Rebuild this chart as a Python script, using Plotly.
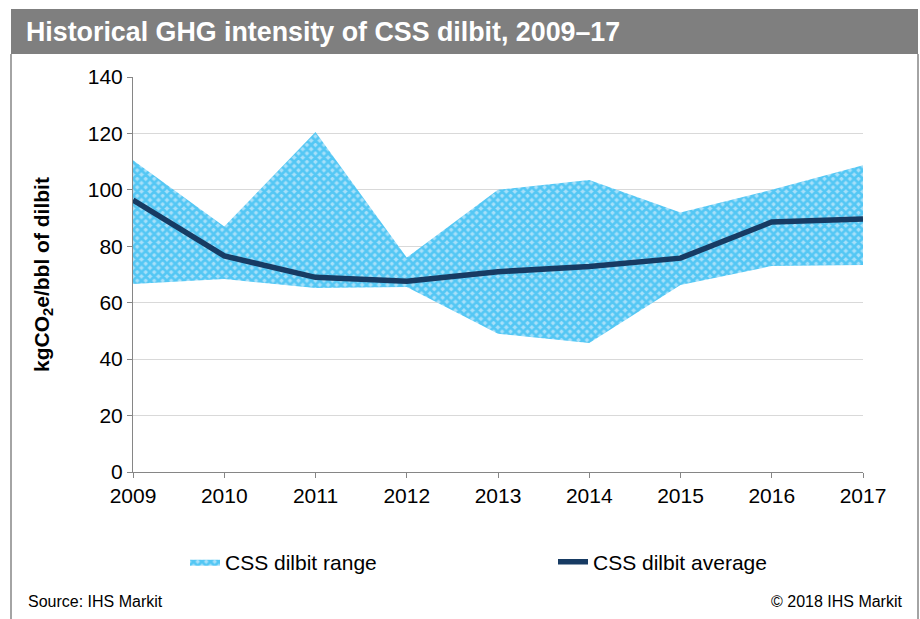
import plotly.graph_objects as go

years = [2009, 2010, 2011, 2012, 2013, 2014, 2015, 2016, 2017]
range_high = [110.5, 87, 120.5, 76, 100, 103.5, 92, 100, 108.7]
range_low = [66.6, 68.4, 65.2, 65.6, 49, 45.7, 66.3, 73, 73.4]
average = [96.4, 76.6, 69, 67.6, 71, 72.8, 75.8, 88.6, 89.7]

W, H = 920, 619
L, R, T, B = 133, 57, 77, 147
PW, PH = W - L - R, H - T - B


def px(x):
    return (x - L) / PW


def py(y):
    return (H - B - y) / PH


fig = go.Figure()
fig.add_trace(go.Scatter(
    x=years, y=range_low, mode="lines", line=dict(width=0, color="rgba(0,0,0,0)"),
    showlegend=False, hoverinfo="skip"))
fig.add_trace(go.Scatter(
    x=years, y=range_high, mode="lines", line=dict(width=0, color="rgba(0,0,0,0)"),
    fill="tonexty", fillcolor="#5ac8f5",
    fillpattern=dict(shape="x", fgcolor="#00aeef", bgcolor="#a8e0f9", size=6, solidity=0.7),
    name="CSS dilbit range", legend="legend"))
fig.add_trace(go.Scatter(
    x=years, y=average, mode="lines", line=dict(width=5.5, color="#173b63"),
    name="CSS dilbit average", legend="legend2"))

leg_common = dict(orientation="h", yanchor="middle", font=dict(size=21),
                  bgcolor="rgba(0,0,0,0)", xanchor="left")

fig.update_layout(
    width=W, height=H,
    margin=dict(l=L, r=R, t=T, b=B),
    paper_bgcolor="white", plot_bgcolor="white",
    font=dict(family="Liberation Sans, Arial, sans-serif", color="#000000", size=21),
    showlegend=True,
    legend=dict(x=px(185), y=py(562), **leg_common),
    legend2=dict(x=px(553), y=py(562), **leg_common),
    xaxis=dict(range=[2009, 2017], tickvals=years, ticktext=[str(y) for y in years],
               showgrid=False, showline=True, linecolor="#868686", linewidth=1,
               ticks="outside", ticklen=5, tickcolor="#868686", zeroline=False,
               tickfont=dict(size=21)),
    yaxis=dict(range=[0, 140], tickvals=[0, 20, 40, 60, 80, 100, 120, 140],
               showgrid=True, gridcolor="#d9d9d9", gridwidth=1,
               showline=True, linecolor="#868686", linewidth=1,
               ticks="outside", ticklen=5, tickcolor="#868686", zeroline=False,
               tickfont=dict(size=21),
               title=dict(text="<b>kgCO<sub>2</sub>e/bbl of dilbit</b>", font=dict(size=21), standoff=32)),
    shapes=[
        dict(type="rect", xref="paper", yref="paper",
             x0=px(11), x1=px(918), y0=py(54), y1=py(9),
             fillcolor="#7f7f7f", line=dict(width=0), layer="below"),
        dict(type="line", xref="paper", yref="paper",
             x0=px(11), x1=px(11), y0=py(625), y1=py(54),
             line=dict(color="#868686", width=1.5)),
        dict(type="line", xref="paper", yref="paper",
             x0=px(918), x1=px(918), y0=py(625), y1=py(54),
             line=dict(color="#868686", width=1.5)),
    ],
    annotations=[
        dict(text="<b>Historical GHG intensity of CSS dilbit, 2009–17</b>", xref="paper", yref="paper",
             x=px(24), y=py(32), xanchor="left", yanchor="middle",
             showarrow=False, font=dict(size=26.8, color="white")),
        dict(text="Source: IHS Markit", xref="paper", yref="paper",
             x=px(26), y=py(601), xanchor="left", yanchor="middle",
             showarrow=False, font=dict(size=16)),
        dict(text="© 2018 IHS Markit", xref="paper", yref="paper",
             x=px(905), y=py(601), xanchor="right", yanchor="middle",
             showarrow=False, font=dict(size=16)),
    ],
)

fig.write_html("out.html", config={"displayModeBar": False},
               post_script="document.body.style.margin='0';")
